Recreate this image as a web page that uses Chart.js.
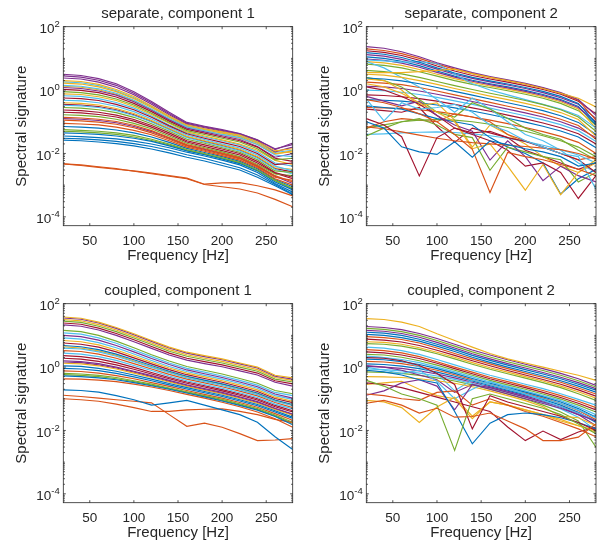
<!DOCTYPE html>
<html>
<head>
<meta charset="utf-8">
<script src="https://cdn.jsdelivr.net/npm/chart.js@4.4.1/dist/chart.umd.min.js"></script>
<style>
  body { margin: 0; background: #fff; }
  #wrap { position: relative; width: 599px; height: 548px; }
  canvas { position: absolute; }
</style>
</head>
<body>
<div id="wrap">
  <canvas id="c1" width="299" height="274" style="left:0;top:0"></canvas>
  <canvas id="c2" width="296" height="274" style="left:303px;top:0"></canvas>
  <canvas id="c3" width="299" height="271" style="left:0;top:277px"></canvas>
  <canvas id="c4" width="296" height="271" style="left:303px;top:277px"></canvas>
</div>
<script>
// frequency grid (Hz) and axis ticks
const freqs = [20, 40, 60, 80, 100, 120, 140, 160, 180, 200, 220, 240, 260, 280];
const xTicks = [50, 100, 150, 200, 250];
const yTickExps = [-4, -2, 0, 2];
const yMinExp = -4.28, yMaxExp = 2;

// log10 of the spectral signature, one row per line
const sepComp1 = [
  [-1.58,-1.60,-1.64,-1.69,-1.76,-1.86,-1.98,-2.12,-2.24,-2.38,-2.52,-2.75,-3.02,-3.30],
  [-2.33,-2.38,-2.44,-2.50,-2.55,-2.62,-2.70,-2.78,-2.97,-2.93,-2.92,-3.02,-3.15,-3.34],
  [0.30,0.27,0.18,0.02,-0.20,-0.50,-0.82,-1.10,-1.22,-1.32,-1.42,-1.63,-1.92,-1.85],
  [0.50,0.46,0.36,0.20,-0.05,-0.36,-0.70,-1.02,-1.14,-1.25,-1.37,-1.57,-1.88,-1.67],
  [-0.05,-0.08,-0.15,-0.28,-0.47,-0.73,-1.02,-1.28,-1.40,-1.52,-1.64,-1.85,-2.20,-2.15],
  [0.15,0.12,0.04,-0.10,-0.32,-0.60,-0.90,-1.16,-1.28,-1.40,-1.50,-1.72,-2.05,-2.10],
  [-0.25,-0.27,-0.33,-0.45,-0.62,-0.86,-1.13,-1.38,-1.52,-1.65,-1.78,-2.00,-2.35,-2.30],
  [-1.52,-1.54,-1.57,-1.62,-1.69,-1.78,-1.90,-2.04,-2.16,-2.30,-2.45,-2.68,-2.98,-3.28],
  [-2.33,-2.36,-2.42,-2.48,-2.56,-2.64,-2.72,-2.80,-2.98,-3.05,-3.12,-3.25,-3.45,-3.68],
  [-0.12,-0.14,-0.21,-0.33,-0.52,-0.77,-1.05,-1.32,-1.45,-1.57,-1.70,-1.90,-2.22,-2.35],
  [0.45,0.41,0.31,0.15,-0.10,-0.40,-0.74,-1.05,-1.16,-1.27,-1.38,-1.58,-1.85,-1.72],
  [-0.55,-0.57,-0.62,-0.71,-0.86,-1.06,-1.30,-1.55,-1.68,-1.82,-1.96,-2.20,-2.55,-2.60],
  [-0.32,-0.34,-0.40,-0.51,-0.68,-0.91,-1.17,-1.42,-1.56,-1.70,-1.83,-2.05,-2.40,-2.55],
  [0.02,-0.01,-0.08,-0.22,-0.42,-0.68,-0.98,-1.24,-1.36,-1.48,-1.60,-1.80,-2.15,-2.25],
  [-1.45,-1.47,-1.50,-1.54,-1.61,-1.70,-1.82,-1.96,-2.08,-2.21,-2.36,-2.60,-2.95,-3.22],
  [-0.86,-0.88,-0.92,-0.99,-1.11,-1.28,-1.50,-1.72,-1.85,-1.99,-2.13,-2.38,-2.70,-2.90],
  [-0.40,-0.42,-0.47,-0.58,-0.74,-0.96,-1.21,-1.46,-1.60,-1.73,-1.87,-2.10,-2.45,-2.50],
  [0.38,0.35,0.25,0.09,-0.15,-0.45,-0.78,-1.08,-1.19,-1.30,-1.40,-1.60,-1.95,-1.80],
  [-1.25,-1.27,-1.30,-1.35,-1.43,-1.55,-1.70,-1.88,-2.00,-2.14,-2.28,-2.52,-2.85,-3.10],
  [-0.48,-0.50,-0.55,-0.65,-0.80,-1.01,-1.25,-1.50,-1.64,-1.78,-1.92,-2.15,-2.50,-2.65],
  [-0.63,-0.65,-0.70,-0.79,-0.93,-1.12,-1.35,-1.60,-1.73,-1.86,-2.00,-2.25,-2.60,-2.75],
  [-1.35,-1.37,-1.40,-1.45,-1.52,-1.62,-1.76,-1.92,-2.04,-2.17,-2.32,-2.55,-2.90,-3.15],
  [-1.05,-1.07,-1.10,-1.17,-1.27,-1.41,-1.60,-1.80,-1.93,-2.07,-2.21,-2.45,-2.80,-3.00],
  [0.22,0.19,0.10,-0.05,-0.27,-0.55,-0.86,-1.14,-1.25,-1.36,-1.47,-1.68,-2.00,-1.95],
  [0.08,0.05,-0.03,-0.16,-0.37,-0.64,-0.94,-1.20,-1.32,-1.44,-1.56,-1.78,-2.12,-2.00],
  [-0.78,-0.80,-0.84,-0.92,-1.05,-1.22,-1.45,-1.68,-1.82,-1.95,-2.10,-2.35,-2.65,-2.70],
  [-0.18,-0.20,-0.27,-0.39,-0.57,-0.82,-1.10,-1.35,-1.48,-1.60,-1.73,-1.95,-2.30,-2.40],
  [-0.70,-0.72,-0.77,-0.85,-0.98,-1.17,-1.40,-1.64,-1.78,-1.91,-2.05,-2.30,-2.62,-2.80],
  [-1.15,-1.17,-1.20,-1.26,-1.35,-1.48,-1.65,-1.84,-1.97,-2.10,-2.25,-2.48,-2.82,-3.05],
  [-0.95,-0.97,-1.01,-1.08,-1.19,-1.35,-1.55,-1.76,-1.90,-2.03,-2.17,-2.42,-2.75,-2.85],
  [0.12,0.09,0.01,-0.13,-0.34,-0.62,-0.92,-1.18,-1.29,-1.40,-1.52,-1.72,-2.02,-1.92],
  [-0.90,-0.92,-0.96,-1.03,-1.15,-1.31,-1.52,-1.74,-1.87,-2.00,-2.15,-2.40,-2.72,-2.95],
  [-1.30,-1.32,-1.35,-1.40,-1.48,-1.59,-1.73,-1.90,-2.02,-2.15,-2.30,-2.53,-2.86,-3.12],
  [0.26,0.23,0.14,-0.02,-0.24,-0.52,-0.84,-1.12,-1.23,-1.34,-1.45,-1.65,-1.97,-1.90],
  [-0.45,-0.47,-0.52,-0.62,-0.78,-0.99,-1.23,-1.48,-1.62,-1.75,-1.89,-2.12,-2.48,-2.58]
];

const sepComp2 = [
  [-1.00,-1.20,-1.79,-1.95,-2.03,-1.63,-2.12,-1.60,-1.72,-1.85,-1.95,-2.10,-2.40,-2.30],
  [-0.30,-0.40,-0.55,-0.75,-1.00,-1.40,-1.87,-3.23,-1.97,-2.10,-2.20,-2.35,-2.50,-2.70],
  [0.55,0.55,0.55,0.58,0.62,0.66,0.52,0.40,0.30,0.19,0.05,-0.10,-0.26,-0.53],
  [1.37,1.32,1.21,1.05,0.86,0.70,0.55,0.43,0.32,0.21,0.08,-0.08,-0.30,-0.80],
  [0.62,0.58,0.51,0.40,0.27,0.14,0.02,-0.10,-0.21,-0.33,-0.46,-0.62,-0.85,-1.30],
  [-0.28,-0.97,-0.40,-0.60,-0.55,-0.45,-0.70,-1.10,-1.30,-1.60,-1.80,-2.00,-2.10,-3.13],
  [-0.90,-1.10,-1.47,-2.71,-1.50,-1.20,-1.35,-1.30,-1.50,-1.62,-1.80,-2.00,-2.20,-2.60],
  [1.18,1.13,1.03,0.88,0.70,0.54,0.40,0.29,0.19,0.08,-0.04,-0.20,-0.42,-1.05],
  [-1.16,-1.22,-1.32,-1.42,-1.52,-1.60,-1.66,-1.70,-1.74,-1.78,-1.83,-1.88,-2.00,-2.18],
  [0.20,0.10,-0.10,-0.40,-0.70,-1.00,-1.85,-1.70,-2.40,-3.16,-2.35,-3.30,-2.60,-2.20],
  [-0.20,-0.35,-0.50,-0.35,-0.80,-1.10,-1.30,-2.21,-1.60,-2.10,-2.86,-2.40,-2.70,-2.90],
  [-1.45,-1.20,-1.00,-0.90,-1.10,-1.40,-1.50,-2.53,-1.80,-1.95,-2.10,-2.20,-2.90,-2.60],
  [0.95,0.92,0.88,0.90,0.84,0.50,0.20,0.00,-0.15,-0.30,-0.45,-0.60,-0.80,-1.20],
  [0.10,0.00,-0.20,-0.45,-0.80,-1.20,-1.40,-1.60,-1.90,-2.40,-2.30,-2.60,-3.42,-2.70],
  [-0.50,-0.55,-0.60,-0.75,-0.90,-1.00,-1.10,-1.50,-1.80,-2.00,-2.30,-3.28,-2.80,-2.50],
  [1.30,1.25,1.15,1.00,0.82,0.66,0.52,0.40,0.30,0.19,0.06,-0.10,-0.32,-0.95],
  [0.50,0.47,0.40,0.30,0.18,0.05,-0.07,-0.19,-0.30,-0.42,-0.55,-0.71,-0.93,-1.45],
  [1.12,1.07,0.97,0.83,0.66,0.50,0.37,0.26,0.16,0.05,-0.08,-0.24,-0.45,-0.90],
  [-1.20,-1.10,-1.00,-0.95,-0.93,-0.95,-1.00,-1.08,-1.18,-1.30,-1.44,-1.60,-1.80,-2.10],
  [-1.40,-1.38,-1.35,-1.33,-1.32,-1.34,-1.38,-1.44,-1.52,-1.62,-1.74,-1.88,-2.05,-2.30],
  [1.24,1.19,1.09,0.94,0.76,0.60,0.46,0.35,0.25,0.14,0.02,-0.13,-0.35,-0.75],
  [0.38,0.35,0.29,0.20,0.08,-0.04,-0.16,-0.28,-0.40,-0.52,-0.65,-0.81,-1.02,-1.40],
  [-1.20,-1.00,-0.90,-0.95,-1.00,-0.75,-0.85,-1.00,-1.40,-1.60,-1.80,-2.00,-2.20,-2.10],
  [0.35,0.30,0.00,-0.50,-0.40,-0.95,-1.80,-1.10,-1.40,-1.70,-2.10,-2.40,-2.60,-2.30],
  [0.98,0.94,0.85,0.72,0.56,0.41,0.28,0.17,0.07,-0.04,-0.17,-0.33,-0.55,-1.00],
  [0.40,0.30,0.10,-0.30,-0.70,-0.85,-0.40,-0.60,-0.90,-1.20,-1.40,-1.55,-1.90,-2.20],
  [0.90,0.70,0.40,0.10,-0.30,-0.70,-0.25,-0.60,-1.00,-1.40,-1.60,-1.90,-2.30,-2.60],
  [-0.60,-0.65,-0.70,-0.55,-1.15,-1.65,-1.20,-1.35,-1.50,-1.90,-2.10,-2.30,-2.50,-2.30],
  [1.05,1.00,0.91,0.77,0.60,0.44,0.31,0.20,0.10,-0.01,-0.14,-0.30,-0.52,-1.10],
  [0.25,0.22,0.17,0.08,-0.03,-0.15,-0.27,-0.39,-0.51,-0.63,-0.76,-0.92,-1.12,-1.55],
  [0.90,0.86,0.78,0.65,0.50,0.36,0.24,0.13,0.03,-0.08,-0.21,-0.37,-0.60,-1.20],
  [0.12,0.10,0.05,-0.03,-0.13,-0.24,-0.36,-0.48,-0.60,-0.72,-0.85,-1.00,-1.20,-1.50],
  [0.82,0.78,0.70,0.58,0.44,0.30,0.18,0.08,-0.02,-0.13,-0.26,-0.42,-0.65,-1.10],
  [0.00,-0.02,-0.07,-0.14,-0.23,-0.34,-0.45,-0.57,-0.69,-0.81,-0.94,-1.09,-1.28,-1.62],
  [-0.15,-0.17,-0.21,-0.27,-0.35,-0.45,-0.56,-0.67,-0.79,-0.91,-1.04,-1.19,-1.38,-1.70],
  [-0.30,-0.32,-0.35,-0.40,-0.47,-0.56,-0.66,-0.77,-0.89,-1.01,-1.14,-1.29,-1.48,-1.82],
  [-0.55,-0.56,-0.58,-0.62,-0.68,-0.76,-0.85,-0.95,-1.06,-1.18,-1.31,-1.46,-1.65,-2.00]
];

const coupComp1 = [
  [-0.72,-0.74,-0.79,-0.90,-1.03,-1.20,-1.13,-1.05,-1.20,-1.35,-1.50,-1.74,-2.20,-2.60],
  [-0.89,-0.93,-0.98,-1.03,-1.08,-1.13,-1.50,-1.87,-1.77,-1.90,-2.10,-2.32,-2.30,-2.26],
  [1.58,1.54,1.42,1.25,1.05,0.84,0.63,0.47,0.36,0.26,0.13,0.00,-0.26,-0.34],
  [1.55,1.51,1.39,1.22,1.02,0.81,0.60,0.44,0.33,0.23,0.10,-0.03,-0.29,-0.38],
  [1.16,1.12,1.00,0.82,0.61,0.39,0.19,0.02,-0.10,-0.22,-0.36,-0.51,-0.74,-0.84],
  [0.60,0.57,0.48,0.34,0.17,-0.01,-0.18,-0.34,-0.46,-0.58,-0.72,-0.87,-1.08,-1.22],
  [0.28,0.25,0.18,0.07,-0.07,-0.22,-0.37,-0.51,-0.63,-0.75,-0.89,-1.04,-1.25,-1.42],
  [-0.28,-0.30,-0.34,-0.40,-0.49,-0.59,-0.70,-0.82,-0.94,-1.07,-1.21,-1.36,-1.56,-1.82],
  [-1.00,-1.03,-1.08,-1.17,-1.28,-1.40,-1.40,-1.35,-1.33,-1.32,-1.40,-1.50,-1.65,-1.75],
  [0.84,0.80,0.70,0.54,0.35,0.15,-0.03,-0.19,-0.31,-0.43,-0.57,-0.72,-0.95,-1.08],
  [1.00,0.96,0.85,0.68,0.48,0.27,0.08,-0.09,-0.21,-0.33,-0.47,-0.62,-0.85,-0.98],
  [1.45,1.41,1.29,1.12,0.92,0.71,0.50,0.34,0.23,0.13,0.00,-0.13,-0.38,-0.47],
  [0.44,0.41,0.33,0.21,0.05,-0.11,-0.28,-0.43,-0.55,-0.67,-0.81,-0.96,-1.17,-1.32],
  [0.76,0.72,0.63,0.48,0.29,0.10,-0.08,-0.24,-0.36,-0.48,-0.62,-0.77,-0.99,-1.12],
  [0.04,0.02,-0.04,-0.13,-0.25,-0.38,-0.52,-0.65,-0.77,-0.89,-1.03,-1.18,-1.38,-1.58],
  [-0.37,-0.38,-0.41,-0.46,-0.54,-0.63,-0.74,-0.86,-0.98,-1.11,-1.25,-1.42,-1.63,-1.90],
  [1.50,1.46,1.34,1.17,0.97,0.76,0.55,0.39,0.28,0.18,0.05,-0.08,-0.33,-0.42],
  [0.20,0.17,0.11,0.00,-0.13,-0.27,-0.42,-0.56,-0.68,-0.80,-0.94,-1.09,-1.30,-1.48],
  [-0.20,-0.22,-0.26,-0.33,-0.43,-0.54,-0.66,-0.78,-0.90,-1.02,-1.16,-1.31,-1.51,-1.74],
  [1.08,1.04,0.92,0.75,0.54,0.33,0.13,-0.04,-0.16,-0.28,-0.42,-0.57,-0.80,-0.90],
  [1.39,1.35,1.23,1.06,0.86,0.65,0.44,0.28,0.17,0.07,-0.06,-0.19,-0.43,-0.53],
  [-0.04,-0.06,-0.11,-0.20,-0.31,-0.43,-0.56,-0.69,-0.81,-0.93,-1.07,-1.22,-1.42,-1.62],
  [0.52,0.49,0.41,0.28,0.11,-0.06,-0.23,-0.38,-0.50,-0.62,-0.76,-0.91,-1.12,-1.28],
  [0.12,0.10,0.04,-0.06,-0.19,-0.33,-0.47,-0.61,-0.73,-0.85,-0.99,-1.14,-1.34,-1.52],
  [1.33,1.29,1.17,1.00,0.80,0.59,0.38,0.22,0.11,0.01,-0.12,-0.25,-0.48,-0.60],
  [-0.24,-0.26,-0.30,-0.37,-0.46,-0.57,-0.68,-0.80,-0.92,-1.05,-1.19,-1.34,-1.54,-1.78],
  [0.92,0.88,0.77,0.61,0.41,0.21,0.02,-0.14,-0.26,-0.38,-0.52,-0.67,-0.90,-1.02],
  [0.36,0.33,0.26,0.14,-0.01,-0.17,-0.33,-0.47,-0.59,-0.71,-0.85,-1.00,-1.21,-1.38],
  [0.68,0.64,0.55,0.41,0.23,0.05,-0.13,-0.29,-0.41,-0.53,-0.67,-0.82,-1.04,-1.18],
  [-0.12,-0.14,-0.19,-0.27,-0.37,-0.49,-0.61,-0.74,-0.86,-0.98,-1.12,-1.27,-1.47,-1.68],
  [0.64,0.60,0.51,0.37,0.19,0.01,-0.16,-0.31,-0.43,-0.55,-0.69,-0.84,-1.06,-1.20],
  [0.16,0.14,0.07,-0.03,-0.16,-0.30,-0.45,-0.59,-0.71,-0.83,-0.97,-1.12,-1.32,-1.50]
];

const coupComp2 = [
  [1.10,1.07,1.00,0.88,0.72,0.55,0.37,0.21,0.06,-0.08,-0.22,-0.37,-0.54,-0.73],
  [-1.14,-1.05,-1.20,-1.45,-1.30,-1.58,-1.56,-1.45,-1.70,-1.95,-2.32,-2.32,-2.21,-1.79],
  [1.53,1.50,1.42,1.28,1.05,0.84,0.63,0.43,0.26,0.13,0.00,-0.13,-0.26,-0.42],
  [1.28,1.25,1.18,1.06,0.90,0.72,0.54,0.38,0.23,0.09,-0.05,-0.20,-0.37,-0.58],
  [-0.42,-0.60,-0.85,-1.00,-1.20,-2.63,-1.00,-0.85,-1.00,-1.15,-1.30,-1.50,-1.80,-2.10],
  [0.63,0.60,0.52,0.40,0.24,0.07,-0.10,-0.26,-0.40,-0.54,-0.68,-0.84,-1.02,-1.20],
  [0.30,0.28,0.20,0.05,-0.20,-0.55,-1.95,-0.90,-1.10,-1.25,-1.40,-1.55,-1.75,-2.00],
  [-0.10,-0.15,-0.25,-0.40,-0.50,-1.40,-2.42,-1.77,-1.50,-1.45,-1.50,-1.60,-1.75,-1.95],
  [-0.85,-0.90,-1.00,-1.05,-0.80,-0.75,-1.20,-1.00,-1.20,-1.40,-1.55,-1.75,-1.95,-2.20],
  [-1.05,-1.10,-1.28,-1.75,-1.26,-0.95,-1.55,-1.10,-1.20,-1.35,-1.50,-1.70,-1.85,-2.00],
  [-0.89,-0.75,-0.50,-0.40,-0.60,-1.35,-0.55,-0.70,-0.85,-1.00,-1.15,-1.30,-1.50,-1.70],
  [1.22,1.19,1.12,1.00,0.84,0.66,0.48,0.32,0.17,0.03,-0.11,-0.26,-0.43,-0.63],
  [0.00,-0.10,-0.20,-0.10,-0.45,-1.00,-0.70,-0.45,-0.65,-0.85,-1.05,-1.25,-1.45,-1.70],
  [-0.50,-0.55,-0.65,-0.80,-0.95,-1.10,-1.25,-1.40,-1.89,-2.32,-2.02,-2.29,-2.05,-1.89],
  [1.03,1.00,0.93,0.82,0.66,0.49,0.31,0.15,0.00,-0.14,-0.28,-0.43,-0.60,-0.79],
  [0.55,0.52,0.45,0.33,0.17,0.00,-0.16,-0.32,-0.46,-0.60,-0.74,-0.90,-1.08,-1.28],
  [-0.30,-0.31,-0.33,-0.37,-0.43,-0.51,-0.62,-0.75,-0.90,-1.06,-1.25,-1.55,-1.60,-1.85],
  [1.16,1.13,1.06,0.94,0.78,0.60,0.42,0.26,0.11,-0.03,-0.17,-0.32,-0.49,-0.68],
  [0.40,0.38,0.31,0.20,0.06,-0.10,-0.26,-0.42,-0.56,-0.70,-0.85,-1.01,-1.20,-1.42],
  [0.35,0.30,0.20,0.00,-0.20,-0.75,-0.40,-0.55,-0.70,-0.85,-1.00,-1.15,-1.35,-1.60],
  [0.48,0.45,0.38,0.27,0.12,-0.05,-0.21,-0.37,-0.51,-0.65,-0.80,-0.96,-1.14,-1.35],
  [0.25,0.23,0.17,0.08,-0.05,-0.20,-0.36,-0.51,-0.65,-0.79,-0.94,-1.10,-1.31,-1.58],
  [0.96,0.93,0.87,0.76,0.60,0.43,0.26,0.10,-0.05,-0.19,-0.33,-0.48,-0.66,-0.85],
  [-0.55,-0.50,-0.45,-0.70,-0.90,-1.00,-1.63,-1.10,-1.20,-1.35,-1.50,-1.65,-1.85,-2.05],
  [0.05,0.00,-0.10,-0.25,-0.40,-0.80,-0.55,-0.65,-0.80,-0.95,-1.10,-1.25,-1.45,-1.70],
  [-0.15,-0.17,-0.20,-0.26,-0.34,-0.44,-0.56,-0.70,-0.85,-1.01,-1.20,-1.42,-1.70,-2.53],
  [0.32,0.30,0.24,0.14,0.00,-0.15,-0.31,-0.47,-0.61,-0.75,-0.90,-1.06,-1.26,-1.50],
  [0.88,0.85,0.79,0.68,0.53,0.37,0.20,0.04,-0.11,-0.25,-0.39,-0.54,-0.72,-0.92],
  [0.10,0.08,0.03,-0.05,-0.16,-0.29,-0.44,-0.59,-0.73,-0.87,-1.02,-1.20,-1.43,-1.75],
  [0.18,0.16,0.11,0.02,-0.10,-0.24,-0.40,-0.55,-0.69,-0.83,-0.98,-1.15,-1.37,-1.66],
  [0.80,0.78,0.72,0.61,0.47,0.31,0.14,-0.02,-0.16,-0.30,-0.44,-0.60,-0.78,-0.98],
  [0.02,0.00,-0.04,-0.12,-0.22,-0.34,-0.48,-0.62,-0.76,-0.91,-1.07,-1.26,-1.50,-1.85],
  [0.74,0.72,0.66,0.56,0.42,0.26,0.09,-0.07,-0.21,-0.35,-0.49,-0.65,-0.84,-1.05],
  [-0.06,-0.08,-0.12,-0.19,-0.28,-0.39,-0.52,-0.66,-0.80,-0.95,-1.12,-1.32,-1.58,-2.00]
];

// matlab default colour order
const colors = ['#0072BD', '#D95319', '#EDB120', '#7E2F8E', '#77AC30', '#4DBEEE', '#A2142F'];
const ink = '#262626';
const fontFam = "'Liberation Sans', Arial, Helvetica, sans-serif";

// title over the axes, box, inward ticks and 10^n labels drawn matlab style
const matlabAxes = {
  id: 'matlabAxes',
  afterDraw(chart, args, opts) {
    const { ctx, chartArea: a, scales: { x, y } } = chart;
    ctx.save();
    ctx.strokeStyle = ink;
    ctx.lineWidth = 0.8;
    ctx.strokeRect(a.left, a.top, a.right - a.left, a.bottom - a.top);
    ctx.beginPath();
    xTicks.forEach(v => {
      const px = x.getPixelForValue(v);
      ctx.moveTo(px, a.bottom); ctx.lineTo(px, a.bottom - 2.5);
      ctx.moveTo(px, a.top); ctx.lineTo(px, a.top + 2.5);
    });
    for (let e = Math.floor(yMinExp); e <= yMaxExp; e++) {
      for (let m = 1; m < 10; m++) {
        const v = m * Math.pow(10, e);
        if (v < Math.pow(10, yMinExp) || v > Math.pow(10, yMaxExp)) continue;
        const py = y.getPixelForValue(v);
        const len = (m === 1 && yTickExps.includes(e)) ? 2.5 : 1.6;
        ctx.moveTo(a.left, py); ctx.lineTo(a.left + len, py);
        ctx.moveTo(a.right, py); ctx.lineTo(a.right - len, py);
      }
    }
    ctx.stroke();

    ctx.fillStyle = ink;
    // panel title centred on the axes box
    ctx.font = '15px ' + fontFam;
    ctx.textAlign = 'center';
    ctx.textBaseline = 'middle';
    ctx.fillText(opts.text, (a.left + a.right) / 2, a.top - 13.2);

    ctx.textBaseline = 'alphabetic';
    ctx.textAlign = 'left';
    yTickExps.forEach(e => {
      const py = y.getPixelForValue(Math.pow(10, e));
      const sup = String(e);
      ctx.font = '9.5px ' + fontFam;
      const we = ctx.measureText(sup).width;
      ctx.font = '13.5px ' + fontFam;
      const wb = ctx.measureText('10').width;
      const xr = a.left - 3.5;
      ctx.fillText('10', xr - we - wb, py + 6.3);
      ctx.font = '9.5px ' + fontFam;
      ctx.fillText(sup, xr - we, py + 0.2);
    });
    ctx.restore();
  }
};

function makePanel(id, title, rows, rightPad) {
  const canvas = document.getElementById(id);
  const xHeight = canvas.height - 225.7;
  new Chart(canvas, {
    type: 'line',
    data: {
      datasets: rows.map((r, i) => ({
        data: freqs.map((f, j) => ({ x: f, y: Math.pow(10, r[j]) })),
        borderColor: colors[i % colors.length],
        borderWidth: 1.15,
        pointRadius: 0,
        fill: false,
        tension: 0
      }))
    },
    options: {
      responsive: false,
      animation: false,
      events: [],
      layout: { padding: { left: 0, right: rightPad, top: 26.7, bottom: 0 } },
      plugins: {
        legend: { display: false },
        tooltip: { enabled: false },
        title: { display: false },
        matlabAxes: { text: title }
      },
      scales: {
        x: {
          type: 'linear', min: 20, max: 280,
          afterBuildTicks: s => { s.ticks = xTicks.map(v => ({ value: v })); },
          afterFit: s => { s.height = xHeight; },
          grid: { display: false, drawTicks: false },
          border: { display: false },
          ticks: { color: ink, font: { family: fontFam, size: 13.5 }, padding: 7.9, maxRotation: 0, autoSkip: false },
          title: {
            display: true, text: 'Frequency [Hz]', color: ink,
            font: { family: fontFam, size: 15 }, padding: { top: 0, bottom: xHeight - 48.3 + 9 }
          }
        },
        y: {
          type: 'logarithmic', min: Math.pow(10, yMinExp), max: Math.pow(10, yMaxExp),
          afterFit: s => { s.width = 63.3; },
          grid: { display: false, drawTicks: false },
          border: { display: false },
          ticks: { display: false },
          title: {
            display: true, text: 'Spectral signature', color: ink,
            font: { family: fontFam, size: 15 }, padding: { top: 12.7, bottom: 0 }
          }
        }
      }
    },
    plugins: [matlabAxes]
  });
}

makePanel('c1', 'separate, component 1', sepComp1, 6.3);
makePanel('c2', 'separate, component 2', sepComp2, 3);
makePanel('c3', 'coupled, component 1', coupComp1, 6.3);
makePanel('c4', 'coupled, component 2', coupComp2, 3);
</script>
</body>
</html>
